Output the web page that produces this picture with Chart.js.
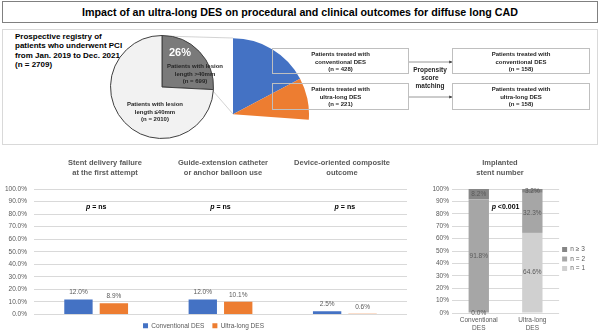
<!DOCTYPE html>
<html>
<head>
<meta charset="utf-8">
<script src="https://cdn.jsdelivr.net/npm/chart.js@4.4.1/dist/chart.umd.min.js"></script>
<style>
    body { margin: 0; width: 600px; height: 331px; position: relative; overflow: hidden; background: #fff;
           font-family: "Liberation Sans", Arial, sans-serif; }
    canvas, .box, .txt, svg { position: absolute; }
    .txt { text-align: center; font-weight: bold; white-space: nowrap; }
    .box { border: 1px solid #bfbfbf; box-sizing: border-box; font-weight: bold; font-size: 6px; color: #262626;
           text-align: center; line-height: 7.6px; padding-top: 2px; }
</style>
</head>
<body>

<div class="box" style="left:2px;top:1px;width:596px;height:22px;border-color:#808080;font-size:10.7px;line-height:20px;padding:0;color:#000"
     id="title">Impact of an ultra-long DES on procedural and clinical outcomes for diffuse long CAD</div>
<div class="box" style="left:2px;top:29px;width:596px;height:116px;border-color:#d9d9d9"></div>

<div class="txt" style="left:15px;top:32px;text-align:left;font-size:8px;line-height:9.3px;color:#000">
    Prospective registry of<br>patients who underwent PCI<br>from Jan. 2019 to Dec. 2021<br><span id="total"></span>
</div>

<svg width="600" height="150" style="left:0;top:0">
    <line x1="162" y1="36" x2="233" y2="38" stroke="#c8c8c8" stroke-width="0.8"/>
    <line x1="213" y1="91" x2="233" y2="114" stroke="#c8c8c8" stroke-width="0.8"/>
    <defs><marker id="arr" markerWidth="4" markerHeight="4" refX="3.5" refY="2" orient="auto">
        <path d="M0,0 L4,2 L0,4 z" fill="#404040"/></marker></defs>
    <line x1="408" y1="62" x2="452" y2="62" stroke="#7f7f7f" stroke-width="0.8" marker-end="url(#arr)"/>
    <line x1="408" y1="97" x2="452" y2="97" stroke="#7f7f7f" stroke-width="0.8" marker-end="url(#arr)"/>
</svg>

<canvas id="registryPie" width="104" height="104" style="left:110px;top:35px"></canvas>
<canvas id="stentPie" width="76" height="82" style="left:233px;top:38px"></canvas>

<div class="txt" style="left:160px;top:46px;width:40px;font-size:11px;color:#fff" id="longPct"></div>
<div class="txt" style="left:160px;top:63px;width:70px;font-size:6px;line-height:7.6px;color:#262626" id="longTxt"></div>
<div class="txt" style="left:120px;top:101px;width:70px;font-size:6px;line-height:7.6px;color:#262626" id="shortTxt"></div>

<div class="box" style="left:272px;top:48px;width:137px;height:26px" id="treated0"></div>
<div class="box" style="left:272px;top:83px;width:137px;height:27px" id="treated1"></div>
<div class="box" style="left:452px;top:48px;width:138px;height:26px" id="matched0"></div>
<div class="box" style="left:452px;top:83px;width:138px;height:27px" id="matched1"></div>
<div class="txt" style="left:400px;top:66px;width:60px;font-size:6.5px;line-height:8px;color:#262626">Propensity<br>score<br>matching</div>

<canvas id="outcomeChart" width="410" height="189" style="left:0;top:150px"></canvas>
<canvas id="stentChart" width="185" height="181" style="left:410px;top:150px"></canvas>

<div class="txt" style="left:45px;top:158px;width:120px;font-size:7.5px;line-height:10px;color:#595959" id="t0"></div>
<div class="txt" style="left:163px;top:158px;width:120px;font-size:7.5px;line-height:10px;color:#595959" id="t1"></div>
<div class="txt" style="left:282px;top:158px;width:120px;font-size:7.5px;line-height:10px;color:#595959" id="t2"></div>
<div class="txt" style="left:450px;top:158px;width:100px;font-size:7.5px;line-height:10px;color:#595959">Implanted<br>stent number</div>

<script>
// registry (n = 2709) split by lesion length
const lesionGroups = ["length >40mm", "length \u226440mm"];
const lesionCounts = [699, 2010];
const lesionColors = ["#7a7a7a", "#f2f2f2"];

// long-lesion patients by stent type, before and after matching
const stentTypes = ["Conventional DES", "Ultra-long DES"];
const treatedCounts = [428, 221];
const matchedCounts = [158, 158];
const stentColors = ["#4472c4", "#ed7d31"];

// outcomes, %
const outcomeTitles = [["Stent delivery failure", "at the first attempt"],
                       ["Guide-extension catheter", "or anchor balloon use"],
                       ["Device-oriented composite", "outcome"]];
const conventionalPct = [12.0, 12.0, 2.5];
const ultraLongPct = [8.9, 10.1, 0.6];
const outcomeP = ["= ns", "= ns", "= ns"];

// implanted stent number, %
const stentArms = [["Conventional", "DES"], ["Ultra-long", "DES"]];
const stentCountLabels = ["n = 1", "n = 2", "n \u2265 3"];
const n1Pct = [0.0, 64.6];
const n2Pct = [91.8, 32.3];
const n3Pct = [8.2, 3.2];
const stentCountColors = ["#d0d0d0", "#a6a6a6", "#868686"];
const stentP = ["<0.001"];

Chart.defaults.font.family = "Liberation Sans, Arial, sans-serif";
Chart.defaults.color = "#595959";
Chart.defaults.animation = false;
Chart.defaults.responsive = false;
Chart.defaults.devicePixelRatio = 1;
Chart.defaults.plugins.tooltip.enabled = false;

// texts built from the numbers
const total = lesionCounts[0] + lesionCounts[1];
document.getElementById("total").textContent = `(n = ${total})`;
document.getElementById("longPct").textContent = Math.round(lesionCounts[0] / total * 100) + "%";
document.getElementById("longTxt").innerHTML = `Patients with lesion<br>${lesionGroups[0]}<br>(n = ${lesionCounts[0]})`;
document.getElementById("shortTxt").innerHTML = `Patients with lesion<br>${lesionGroups[1]}<br>(n = ${lesionCounts[1]})`;
const typeWords = ["conventional DES", "ultra-long DES"];
for (let i = 0; i < 2; i++) {
    document.getElementById("treated" + i).innerHTML = `Patients treated with<br>${typeWords[i]}<br>(n = ${treatedCounts[i]})`;
    document.getElementById("matched" + i).innerHTML = `Patients treated with<br>${typeWords[i]}<br>(n = ${matchedCounts[i]})`;
}
outcomeTitles.forEach((t, i) => document.getElementById("t" + i).innerHTML = t.join("<br>"));

// value labels on bars
const valueLabels = {
    id: "valueLabels",
    afterDatasetsDraw(chart, args, opts) {
        const ctx = chart.ctx;
        ctx.save();
        ctx.font = "6.5px Liberation Sans, Arial, sans-serif";
        ctx.fillStyle = "#595959";
        ctx.textAlign = "center";
        ctx.textBaseline = "middle";
        chart.data.datasets.forEach((ds, i) => {
            chart.getDatasetMeta(i).data.forEach((bar, j) => {
                const y = opts.inside ? (bar.y + bar.base) / 2 : bar.y - 7;
                ctx.fillText(ds.data[j].toFixed(1) + "%", bar.x, y);
            });
        });
        ctx.restore();
    }
};

// "p = ..." notes, placed on the scales
const pNotes = {
    id: "pNotes",
    afterDatasetsDraw(chart, args, opts) {
        const {ctx, scales: {x, y}} = chart;
        const italic = "italic bold 7px Liberation Sans, Arial, sans-serif";
        const plain = "bold 7px Liberation Sans, Arial, sans-serif";
        ctx.save();
        ctx.fillStyle = "#000";
        ctx.textBaseline = "middle";
        ctx.textAlign = "left";
        opts.values.forEach((v, i) => {
            const cx = x.getPixelForValue(opts.at[i]);
            const cy = y.getPixelForValue(opts.level);
            ctx.font = italic;
            const pw = ctx.measureText("p ").width;
            ctx.font = plain;
            const rw = ctx.measureText(v).width;
            const x0 = cx - (pw + rw) / 2;
            ctx.font = italic;
            ctx.fillText("p ", x0, cy);
            ctx.font = plain;
            ctx.fillText(v, x0 + pw, cy);
        });
        ctx.restore();
    }
};

new Chart(document.getElementById("registryPie"), {
    type: "pie",
    data: {
        labels: lesionGroups,
        datasets: [{ data: lesionCounts, backgroundColor: lesionColors, borderColor: "#404040",
                     borderWidth: 1, hoverOffset: 0 }]
    },
    options: { plugins: { legend: { display: false } } }
});

new Chart(document.getElementById("stentPie"), {
    type: "pie",
    data: {
        labels: stentTypes,
        datasets: [{ data: treatedCounts, backgroundColor: stentColors, borderWidth: 0, hoverOffset: 0 }]
    },
    options: { circumference: 94, rotation: 0, plugins: { legend: { display: false } } }
});

new Chart(document.getElementById("outcomeChart"), {
    type: "bar",
    data: {
        labels: outcomeTitles.map(t => t.join(" ")),
        datasets: [
            { label: stentTypes[0], data: conventionalPct, backgroundColor: stentColors[0] },
            { label: stentTypes[1], data: ultraLongPct, backgroundColor: stentColors[1] }
        ]
    },
    options: {
        layout: { padding: { top: 39, right: 3, bottom: 0 } },
        datasets: { bar: { categoryPercentage: 0.57, barPercentage: 0.8 } },
        scales: {
            x: { display: false },
            y: {
                min: 0, max: 100,
                afterFit: s => { s.width = 34; },
                border: { display: false },
                grid: { color: "#d9d9d9", drawTicks: false },
                ticks: { stepSize: 10, padding: 7, font: { size: 6.5 }, callback: v => v.toFixed(1) + "%" }
            }
        },
        plugins: {
            legend: { position: "bottom", labels: { boxWidth: 5, boxHeight: 5, padding: 8, font: { size: 6.5 } } },
            valueLabels: { inside: false },
            pNotes: { values: outcomeP, at: [0, 1, 2], level: 86 }
        }
    },
    plugins: [valueLabels, pNotes]
});

new Chart(document.getElementById("stentChart"), {
    type: "bar",
    data: {
        labels: stentArms,
        datasets: [
            { label: stentCountLabels[0], data: n1Pct, backgroundColor: stentCountColors[0] },
            { label: stentCountLabels[1], data: n2Pct, backgroundColor: stentCountColors[1] },
            { label: stentCountLabels[2], data: n3Pct, backgroundColor: stentCountColors[2] }
        ]
    },
    options: {
        layout: { padding: { top: 39, right: 0, bottom: 0 } },
        datasets: { bar: { categoryPercentage: 1, barPercentage: 0.38 } },
        scales: {
            x: {
                stacked: true,
                afterFit: s => { s.height = 18; },
                border: { display: false },
                grid: { display: false, drawTicks: false },
                ticks: { padding: 3, font: { size: 6.5, lineHeight: 1.3 } }
            },
            y: {
                stacked: true, min: 0, max: 100,
                afterFit: s => { s.width = 42; },
                border: { display: false },
                grid: { color: "#d9d9d9", drawTicks: false },
                ticks: { stepSize: 10, padding: 3, font: { size: 6.5 }, callback: v => v + "%" }
            }
        },
        plugins: {
            legend: { position: "right", reverse: true, fullSize: false,
                      title: { display: true, text: "", font: { size: 6 }, padding: { top: 4.4, bottom: 4.4 } },
                      labels: { boxWidth: 5, boxHeight: 5, padding: 3, font: { size: 6.5 } } },
            valueLabels: { inside: true },
            pNotes: { values: stentP, at: [0.5], level: 85.5 }
        }
    },
    plugins: [valueLabels, pNotes]
});
</script>
</body>
</html>
